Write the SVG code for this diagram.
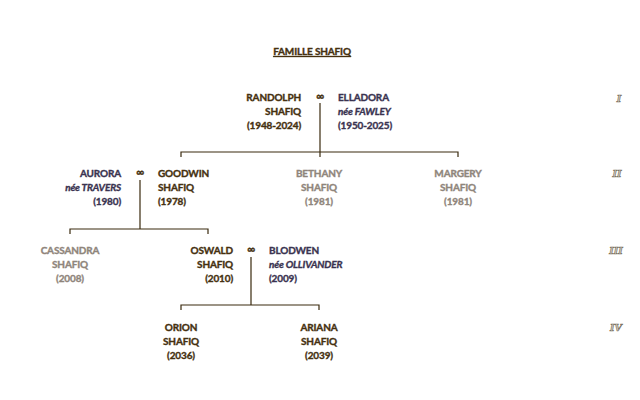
<svg xmlns="http://www.w3.org/2000/svg" width="640" height="400" viewBox="0 0 640 400">
<style>
text{font-family:Lato,"Open Sans","Liberation Sans",sans-serif;font-weight:bold;font-size:10px;letter-spacing:-0.15px;stroke-width:0.35px}
.m{fill:#45300f;stroke:#45300f}
.s{fill:#3a3350;stroke:#3a3350}
.g{fill:#8f857b;stroke:#8f857b}
.r{text-anchor:end}
.c{text-anchor:middle}
.i{font-style:italic}
.inf{fill:#45300f;stroke:#45300f;font-size:11px;text-anchor:middle}
.num{font-family:"DejaVu Serif","Liberation Serif",serif;font-style:italic;font-weight:bold;font-size:9.5px;letter-spacing:0;fill:#d6d0c4;stroke:#7e7666;stroke-width:0.7px;text-anchor:middle}
.ln{stroke:#3a2a0e;stroke-width:1.2;fill:none}
</style>
<rect width="640" height="400" fill="#ffffff"/>
<text x="312" y="55" class="m c" text-decoration="underline">FAMILLE SHAFIQ</text>
<g id="connectors">
<path class="ln" d="M320 103V152M181 157V152H458V157M320 152V157"/>
<path class="ln" d="M140 180V229M70 234V229H208V234"/>
<path class="ln" d="M251 257V305M181 310V305H319V310"/>
</g>
<g id="randolph"><text class="m r" x="301" y="101">RANDOLPH</text><text class="m r" x="301" y="115">SHAFIQ</text><text class="m r" x="301" y="129">(1948-2024)</text></g>
<text class="inf" x="320" y="100">∞</text>
<g id="elladora"><text class="s" x="338" y="101">ELLADORA</text><text class="s i" x="338" y="115">née FAWLEY</text><text class="s" x="338" y="129">(1950-2025)</text></g>
<g id="aurora"><text class="s r" x="121" y="177">AURORA</text><text class="s r i" x="121" y="191">née TRAVERS</text><text class="s r" x="121" y="205">(1980)</text></g>
<text class="inf" x="140" y="176">∞</text>
<g id="goodwin"><text class="m" x="158" y="177">GOODWIN</text><text class="m" x="158" y="191">SHAFIQ</text><text class="m" x="158" y="205">(1978)</text></g>
<g id="bethany"><text class="g c" x="319" y="177">BETHANY</text><text class="g c" x="319" y="191">SHAFIQ</text><text class="g c" x="319" y="205">(1981)</text></g>
<g id="margery"><text class="g c" x="458" y="177">MARGERY</text><text class="g c" x="458" y="191">SHAFIQ</text><text class="g c" x="458" y="205">(1981)</text></g>
<g id="cassandra"><text class="g c" x="70" y="254">CASSANDRA</text><text class="g c" x="70" y="268">SHAFIQ</text><text class="g c" x="70" y="282">(2008)</text></g>
<g id="oswald"><text class="m r" x="233" y="254">OSWALD</text><text class="m r" x="233" y="268">SHAFIQ</text><text class="m r" x="233" y="282">(2010)</text></g>
<text class="inf" x="251" y="253">∞</text>
<g id="blodwen"><text class="s" x="269" y="254">BLODWEN</text><text class="s i" x="269" y="268">née OLLIVANDER</text><text class="s" x="269" y="282">(2009)</text></g>
<g id="orion"><text class="m c" x="181" y="331">ORION</text><text class="m c" x="181" y="345">SHAFIQ</text><text class="m c" x="181" y="359">(2036)</text></g>
<g id="ariana"><text class="m c" x="319" y="331">ARIANA</text><text class="m c" x="319" y="345">SHAFIQ</text><text class="m c" x="319" y="359">(2039)</text></g>
<g id="generations">
<text class="num" x="619" y="102">I</text>
<text class="num" x="617" y="177">II</text>
<text class="num" x="616" y="254">III</text>
<text class="num" x="616" y="331">IV</text>
</g>
</svg>
